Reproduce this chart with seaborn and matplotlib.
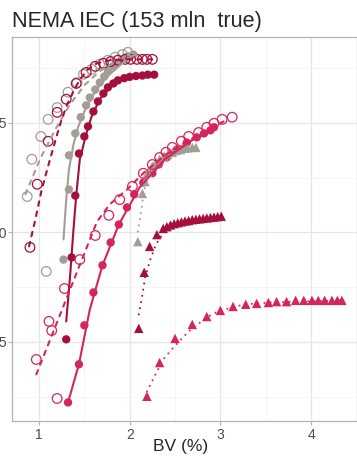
import pandas as pd
import seaborn as sns
import matplotlib.pyplot as plt

# Points (BV in %, recovery on the y axis)
gray_open_bv = [1.08, 0.87, 0.92, 1.02, 1.10, 1.20, 1.32, 1.42, 1.49, 1.58, 1.67, 1.76, 1.84, 1.92, 1.98]
gray_open_cr = [41.1, 58.2, 66.7, 71.9, 75.8, 78.5, 82.0, 84.2, 86.1, 87.2, 88.4, 89.3, 90.0, 90.6, 91.1]

crimson_open_bv = [0.90, 0.98, 1.10, 1.20, 1.30, 1.41, 1.52, 1.62, 1.71, 1.79, 1.87, 1.95, 2.01, 2.08, 2.14, 2.19, 2.25]
crimson_open_cr = [46.6, 61.0, 70.8, 77.4, 80.4, 84.0, 86.5, 87.9, 88.6, 89.0, 89.3, 89.5, 89.5, 89.5, 89.5, 89.5, 89.5]

gray_filled_bv = [1.27, 1.33, 1.33, 1.40, 1.46, 1.52, 1.56, 1.62, 1.67, 1.72, 1.76, 1.82, 1.87, 1.93, 1.98, 2.04]
gray_filled_cr = [43.8, 59.8, 67.6, 72.6, 76.3, 79.0, 80.8, 82.6, 84.2, 85.6, 86.8, 87.9, 88.8, 89.5, 90.2, 90.6]

crimson_filled_bv = [1.30, 1.36, 1.40, 1.44, 1.50, 1.54, 1.60, 1.65, 1.71, 1.76, 1.82, 1.87, 1.94, 2.00, 2.07, 2.14, 2.20, 2.27]
crimson_filled_cr = [25.6, 44.3, 58.4, 68.0, 71.9, 74.2, 77.6, 79.9, 81.7, 83.1, 84.0, 84.7, 85.2, 85.5, 85.7, 85.8, 86.0, 86.0]

pink_open_bv = [0.97, 1.11, 1.14, 1.20, 1.28, 1.45, 1.62, 1.77, 1.89, 2.03, 2.15, 2.25, 2.33, 2.40, 2.47, 2.57, 2.65, 2.76, 2.85, 2.93, 3.02, 3.13]
pink_open_cr = [21.0, 29.7, 27.6, 12.1, 37.2, 43.8, 49.3, 53.9, 57.5, 60.5, 63.5, 65.5, 67.1, 68.3, 69.4, 70.8, 71.9, 72.8, 74.0, 74.9, 75.8, 76.3]

pink_filled_bv = [1.32, 1.44, 1.50, 1.60, 1.70, 1.79, 1.88, 1.97, 2.05, 2.15, 2.25, 2.32, 2.41, 2.52, 2.63, 2.74, 2.82, 2.89, 2.93]
pink_filled_cr = [11.2, 19.9, 28.8, 36.3, 42.5, 47.7, 51.8, 55.7, 58.7, 61.4, 63.5, 65.5, 67.1, 68.9, 70.5, 71.7, 72.6, 73.3, 74.0]

gray_tri_bv = [2.09, 2.14, 2.17, 2.20, 2.25, 2.29, 2.33, 2.38, 2.42, 2.47, 2.51, 2.56, 2.60, 2.64, 2.69, 2.73]
gray_tri_cr = [47.9, 58.9, 61.6, 63.7, 65.1, 66.0, 66.7, 67.4, 67.8, 68.3, 68.7, 68.9, 69.2, 69.3, 69.4, 69.4]

crimson_tri_bv = [2.10, 2.16, 2.22, 2.30, 2.37, 2.41, 2.45, 2.49, 2.53, 2.57, 2.61, 2.65, 2.69, 2.73, 2.77, 2.81, 2.85, 2.89, 2.93, 2.97, 3.01]
crimson_tri_cr = [28.1, 40.9, 46.8, 49.5, 50.9, 51.3, 51.7, 52.0, 52.2, 52.4, 52.6, 52.7, 52.9, 53.0, 53.1, 53.2, 53.3, 53.4, 53.5, 53.6, 53.7]

pink_tri_bv = [2.19, 2.33, 2.50, 2.69, 2.85, 3.00, 3.14, 3.28, 3.40, 3.53, 3.62, 3.73, 3.83, 3.92, 4.01, 4.08, 4.15, 4.23, 4.29, 4.34]
pink_tri_cr = [12.6, 20.3, 25.8, 29.0, 30.8, 32.2, 33.1, 33.6, 33.8, 34.0, 34.2, 34.2, 34.5, 34.5, 34.5, 34.5, 34.5, 34.5, 34.5, 34.5]

# Fitted curves
gray_dash_bv = [0.85, 1.01, 1.18, 1.34, 1.51, 1.67, 1.84, 2.00]
gray_dash_cr = [58.7, 66.7, 73.5, 79.2, 83.8, 86.8, 89.0, 90.6]
crimson_dash_bv = [0.89, 0.96, 1.03, 1.10, 1.20, 1.25, 1.31, 1.38, 1.45, 1.54, 1.64, 1.78, 2.00, 2.28]
crimson_dash_cr = [46.8, 53.0, 59.8, 65.1, 72.4, 75.8, 79.2, 82.2, 84.9, 87.2, 88.6, 89.3, 89.5, 89.5]
gray_solid_bv = [1.27, 1.30, 1.33, 1.38, 1.43, 1.50, 1.58, 1.67, 1.78, 1.89, 2.00, 2.07]
gray_solid_cr = [48.4, 57.5, 64.4, 70.1, 74.0, 77.6, 80.8, 83.6, 86.1, 88.1, 90.0, 90.6]
crimson_solid_bv = [1.30, 1.34, 1.38, 1.41, 1.45, 1.52, 1.58, 1.67, 1.78, 1.89, 2.06, 2.28]
crimson_solid_cr = [29.7, 39.3, 50.7, 58.4, 66.7, 72.4, 76.5, 80.4, 83.1, 84.7, 85.6, 85.8]
pink_dash_bv = [0.97, 1.18, 1.40, 1.64, 1.78, 1.97, 2.17, 2.39, 2.61, 2.83, 3.08]
pink_dash_cr = [17.6, 28.5, 40.0, 52.5, 56.4, 59.8, 63.9, 67.6, 70.5, 73.1, 75.8]
pink_solid_bv = [1.32, 1.44, 1.56, 1.70, 1.88, 2.11, 2.39, 2.67, 2.93]
pink_solid_cr = [11.2, 19.9, 32.4, 42.5, 51.8, 60.3, 66.7, 70.8, 74.0]
gray_dot_bv = [2.09, 2.13, 2.15, 2.19, 2.28, 2.44, 2.72]
gray_dot_cr = [50.2, 55.3, 58.7, 62.1, 65.5, 67.8, 69.4]
crimson_dot_bv = [2.10, 2.14, 2.17, 2.22, 2.29, 2.37, 2.50, 2.72, 3.03]
crimson_dot_cr = [31.3, 35.8, 39.7, 43.4, 47.3, 49.8, 51.6, 53.0, 53.7]
pink_dot_bv = [2.19, 2.28, 2.37, 2.48, 2.64, 2.78, 2.92, 3.08, 3.27, 3.55, 4.34]
pink_dot_cr = [13.7, 17.4, 21.0, 23.7, 27.2, 29.5, 31.5, 32.6, 33.6, 34.0, 34.5]

x_ticks = [1, 2, 3, 4]
y_ticks = [25, 50, 75]

PALETTE = {"gray": "#a39e94", "crimson": "#a50f3c", "pink": "#d6245c"}
DASHES = {"dashed": (2.2, 2.8), "solid": "", "dotted": (0.01, 3.0)}


def to_frame(parts):
    frames = []
    for recon, kind, bv, cr in parts:
        frames.append(pd.DataFrame({"bv": bv, "cr": cr, "recon": recon, "kind": kind}))
    return pd.concat(frames, ignore_index=True)


def main():
    sns.set_theme(style="white")
    plt.rcParams['font.family'] = ['Liberation Sans', 'DejaVu Sans']

    points = to_frame([
        ("gray", "open", gray_open_bv, gray_open_cr),
        ("crimson", "open", crimson_open_bv, crimson_open_cr),
        ("pink", "open", pink_open_bv, pink_open_cr),
        ("gray", "filled", gray_filled_bv, gray_filled_cr),
        ("crimson", "filled", crimson_filled_bv, crimson_filled_cr),
        ("pink", "filled", pink_filled_bv, pink_filled_cr),
        ("gray", "tri", gray_tri_bv, gray_tri_cr),
        ("crimson", "tri", crimson_tri_bv, crimson_tri_cr),
        ("pink", "tri", pink_tri_bv, pink_tri_cr),
    ])
    lines = to_frame([
        ("gray", "dashed", gray_dash_bv, gray_dash_cr),
        ("crimson", "dashed", crimson_dash_bv, crimson_dash_cr),
        ("pink", "dashed", pink_dash_bv, pink_dash_cr),
        ("gray", "solid", gray_solid_bv, gray_solid_cr),
        ("crimson", "solid", crimson_solid_bv, crimson_solid_cr),
        ("pink", "solid", pink_solid_bv, pink_solid_cr),
        ("gray", "dotted", gray_dot_bv, gray_dot_cr),
        ("crimson", "dotted", crimson_dot_bv, crimson_dot_cr),
        ("pink", "dotted", pink_dot_bv, pink_dot_cr),
    ])

    fig = plt.figure(figsize=(3.57, 4.58), dpi=100)
    ax = fig.add_axes([12 / 357, 37 / 458, 348 / 357, 384 / 458])

    sns.lineplot(data=lines, x="bv", y="cr", hue="recon", style="kind",
                 palette=PALETTE, dashes=DASHES, estimator=None, sort=False,
                 linewidth=1.5, legend=False, ax=ax)
    for ln in ax.lines:
        ln.set_dash_capstyle("round")

    sns.scatterplot(data=points[points["kind"] == "filled"], x="bv", y="cr", hue="recon",
                    palette=PALETTE, marker="o", s=36, linewidth=0, edgecolor="none",
                    legend=False, ax=ax)
    sns.scatterplot(data=points[points["kind"] == "tri"], x="bv", y="cr", hue="recon",
                    palette=PALETTE, marker="^", s=46, linewidth=0, edgecolor="none",
                    legend=False, ax=ax)
    sns.scatterplot(data=points[points["kind"] == "open"], x="bv", y="cr", hue="recon",
                    palette=PALETTE, marker="o", s=48, linewidth=0.9,
                    legend=False, ax=ax)
    # hollow circles: move the hue colour to the edge
    coll = ax.collections[-1]
    coll.set_edgecolors(coll.get_facecolors())
    coll.set_facecolors("none")

    ax.set_xlim(0.702, 4.54)
    ax.set_ylim(6.96, 94.6)
    ax.set_xticks(x_ticks)
    ax.set_yticks(y_ticks)
    ax.set_xticks([1.5, 2.5, 3.5, 4.5], minor=True)
    ax.set_yticks([12.5, 37.5, 62.5, 87.5], minor=True)
    ax.grid(which="major", color="#e6e6e6", linewidth=0.9)
    ax.grid(which="minor", color="#f1f1f1", linewidth=0.5)
    ax.set_axisbelow(True)

    for sp in ax.spines.values():
        sp.set_color("#b3b3b3")
        sp.set_linewidth(0.9)
    ax.tick_params(which="major", length=3.0, width=0.8, color="#b3b3b3",
                   labelcolor="#4d4d4d", labelsize=10)
    ax.tick_params(axis="y", pad=1)
    ax.tick_params(axis="x", pad=2)
    ax.tick_params(which="minor", length=0)
    ax.tick_params(left=True, bottom=True)

    ax.set_title("NEMA IEC (153 mln  true)", loc="left", fontsize=15.6, pad=7)
    ax.set_xlabel("BV (%)", fontsize=12.5)
    ax.set_ylabel("")
    ax.xaxis.set_label_coords((181 - 12) / 348, -0.048)

    fig.savefig("out.png", dpi=100)
    plt.close()


if __name__ == "__main__":
    main()
